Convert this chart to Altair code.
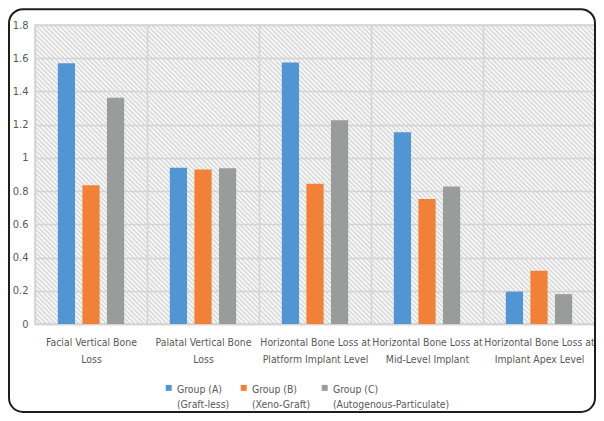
import altair as alt
import pandas as pd

categories = [
    "Facial Vertical Bone\nLoss",
    "Palatal Vertical Bone\nLoss",
    "Horizontal Bone Loss at\nPlatform Implant Level",
    "Horizontal Bone Loss at\nMid-Level Implant",
    "Horizontal Bone Loss at\nImplant Apex Level",
]
groups = [
    "Group (A)\n(Graft-less)",
    "Group (B)\n(Xeno-Graft)",
    "Group (C)\n(Autogenous-Particulate)",
]
group_a = [1.57, 0.94, 1.575, 1.155, 0.195]
group_b = [0.835, 0.93, 0.845, 0.752, 0.32]
group_c = [1.362, 0.938, 1.226, 0.828, 0.18]
colors = ["#5196d2", "#f18139", "#9a9c9c"]
y_ticks = [0, 0.2, 0.4, 0.6, 0.8, 1, 1.2, 1.4, 1.6, 1.8]

rows = []
for g, vals in zip(groups, [group_a, group_b, group_c]):
    for c, v in zip(categories, vals):
        rows.append({"category": c, "group": g, "value": v})
df = pd.DataFrame(rows)

FONT = "DejaVu Sans Condensed, DejaVu Sans, sans-serif"
TXT = "#595959"
GRID = "#d4d4d4"

W, H = 560, 299

# diagonal hatch for the plot background (style only)
N = 185
stops = []
for k in range(N):
    stops.append("{offset:%.5f,color:'#ffffff'}" % (k / N))
    stops.append("{offset:%.5f,color:'#d4d4d4'}" % ((k + 0.5) / N))
r = H / W
k2 = (1 + r) / (1 + r * r)
hatch = (
    "{gradient:'linear',x1:0,y1:1,x2:%.4f,y2:%.4f,stops:[" % (k2, 1 - k2 * r)
    + ",".join(stops)
    + "]}"
)

bars = alt.Chart(df).mark_bar().encode(
    x=alt.X(
        "category:N",
        sort=categories,
        scale=alt.Scale(paddingInner=0, paddingOuter=0),
        axis=alt.Axis(
            title=None,
            labelAngle=0,
            labelExpr="split(datum.label, '\\n')",
            labelFontSize=10.4,
            labelColor=TXT,
            labelFont=FONT,
            labelLineHeight=17.5,
            labelBaseline="top",
            labelPadding=13,
            labelLimit=0,
            ticks=False,
            tickBand="extent",
            grid=True,
            gridColor=GRID,
            gridWidth=1.5,
            domainColor=GRID,
            domainWidth=1.5,
        ),
    ),
    xOffset=alt.XOffset(
        "group:N", sort=groups, scale=alt.Scale(paddingInner=0.3, paddingOuter=0.93)
    ),
    y=alt.Y(
        "value:Q",
        scale=alt.Scale(domain=[0, 1.8], nice=False),
        axis=alt.Axis(
            title=None,
            values=y_ticks,
            format="~g",
            labelFontSize=11,
            labelColor=TXT,
            labelFont=FONT,
            labelPadding=7,
            ticks=False,
            domain=False,
            grid=True,
            gridColor=GRID,
            gridWidth=1.5,
        ),
    ),
    color=alt.Color(
        "group:N",
        sort=groups,
        scale=alt.Scale(domain=groups, range=colors),
        legend=alt.Legend(
            title=None,
            orient="none",
            legendX=128.5,
            legendY=359,
            direction="horizontal",
            columns=3,
            columnPadding=9,
            symbolType="M-1,-1.59H1V0.41H-1Z",
            symbolSize=36,
            symbolStrokeWidth=0,
            labelExpr="split(datum.label, '\\n')",
            labelBaseline="middle",
            labelOffset=3,
            labelFontSize=10.4,
            labelColor=TXT,
            labelFont=FONT,
            labelLimit=0,
            padding=0,
        ),
    ),
)

frame_df = pd.DataFrame({"k": [0]})
frame = alt.Chart(frame_df).mark_rect(
    filled=False, stroke="#1e1e1e", strokeWidth=2, cornerRadius=14
).encode(
    x=alt.value(-26),
    x2=alt.value(560),
    y=alt.value(-15.8),
    y2=alt.value(387),
)

chart = (
    alt.layer(bars, frame)
    .properties(
        width=W,
        height=H,
        padding={"left": 27, "top": 17, "right": 1, "bottom": 89},
        autosize=alt.AutoSizeParams(type="none"),
        background="#ffffff",
    )
    .configure(
        view=alt.ViewConfig(stroke=GRID, strokeWidth=1.5, fill={"expr": hatch}),
        style={"guide-label": {"lineHeight": 15.5}},
    )
)

chart.save("out.html", embed_options={"renderer": "svg", "actions": False})
